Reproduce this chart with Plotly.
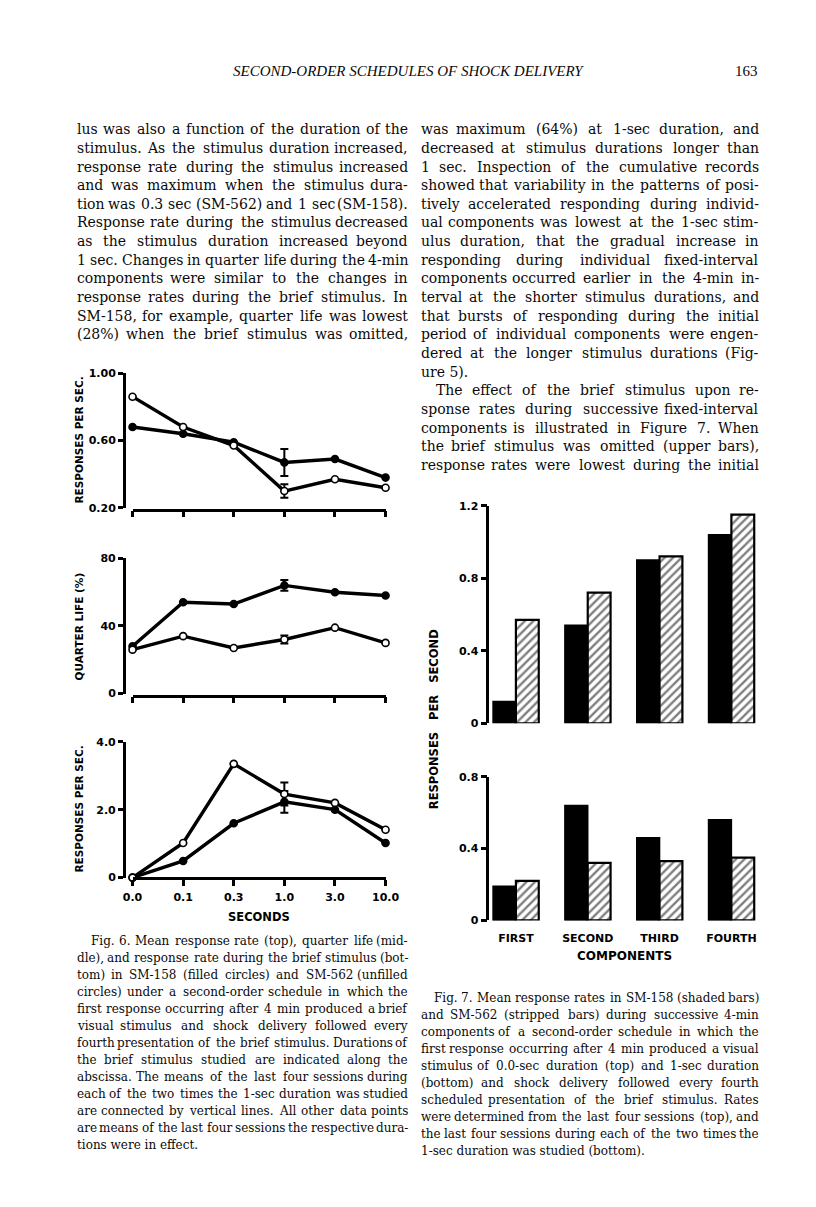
import plotly.graph_objects as go

W, H = 816, 1207
OFF = 8  # default page margin around the figure in the written html

# ---------------- data ----------------
sec_labels = ["0.0", "0.1", "0.3", "1.0", "3.0", "10.0"]
rate_158 = [0.68, 0.64, 0.59, 0.47, 0.49, 0.38]
rate_562 = [0.86, 0.68, 0.57, 0.30, 0.37, 0.32]
rate_err_158 = [None, None, None, 0.08, None, None]
rate_err_562 = [None, None, None, 0.04, None, None]
ql_158 = [28, 54, 53, 64, 60, 58]
ql_562 = [26, 34, 27, 32, 39, 30]
ql_err_158 = [None, None, None, 3.2, None, None]
ql_err_562 = [None, None, None, 2.4, None, None]
stim_158 = [0.0, 0.49, 1.60, 2.23, 2.00, 1.02]
stim_562 = [0.0, 1.02, 3.35, 2.46, 2.20, 1.41]
stim_err_158 = [None, None, None, 0.32, None, None]
stim_err_562 = [None, None, None, 0.34, None, None]

comp_labels = ["FIRST", "SECOND", "THIRD", "FOURTH"]
top_158 = [0.12, 0.54, 0.90, 1.04]
top_562 = [0.57, 0.72, 0.92, 1.15]
bot_158 = [0.19, 0.64, 0.46, 0.56]
bot_562 = [0.22, 0.32, 0.33, 0.35]

header = "SECOND-ORDER SCHEDULES OF SHOCK DELIVERY"
page_no = "163"

left_lines = [
    "lus was also a function of the duration of the",
    "stimulus. As the stimulus duration increased,",
    "response rate during the stimulus increased",
    "and was maximum when the stimulus dura-",
    "tion was 0.3 sec (SM-562) and 1 sec (SM-158).",
    "Response rate during the stimulus decreased",
    "as the stimulus duration increased beyond",
    "1 sec. Changes in quarter life during the 4-min",
    "components were similar to the changes in",
    "response rates during the brief stimulus. In",
    "SM-158, for example, quarter life was lowest",
    "(28%) when the brief stimulus was omitted,",
]
right_lines = [
    "was maximum (64%) at 1-sec duration, and",
    "decreased at stimulus durations longer than",
    "1 sec. Inspection of the cumulative records",
    "showed that variability in the patterns of posi-",
    "tively accelerated responding during individ-",
    "ual components was lowest at the 1-sec stim-",
    "ulus duration, that the gradual increase in",
    "responding during individual fixed-interval",
    "components occurred earlier in the 4-min in-",
    "terval at the shorter stimulus durations, and",
    "that bursts of responding during the initial",
    "period of individual components were engen-",
    "dered at the longer stimulus durations (Fig-",
    "ure 5).",
    "The effect of the brief stimulus upon re-",
    "sponse rates during successive fixed-interval",
    "components is illustrated in Figure 7. When",
    "the brief stimulus was omitted (upper bars),",
    "response rates were lowest during the initial",
]
cap6_lines = [
    "Fig. 6. Mean response rate (top), quarter life (mid-",
    "dle), and response rate during the brief stimulus (bot-",
    "tom) in SM-158 (filled circles) and SM-562 (unfilled",
    "circles) under a second-order schedule in which the",
    "first response occurring after 4 min produced a brief",
    "visual stimulus and shock delivery followed every",
    "fourth presentation of the brief stimulus. Durations of",
    "the brief stimulus studied are indicated along the",
    "abscissa. The means of the last four sessions during",
    "each of the two times the 1-sec duration was studied",
    "are connected by vertical lines. All other data points",
    "are means of the last four sessions the respective dura-",
    "tions were in effect.",
]
cap7_lines = [
    "Fig. 7. Mean response rates in SM-158 (shaded bars)",
    "and SM-562 (stripped bars) during successive 4-min",
    "components of a second-order schedule in which the",
    "first response occurring after 4 min produced a visual",
    "stimulus of 0.0-sec duration (top) and 1-sec duration",
    "(bottom) and shock delivery followed every fourth",
    "scheduled presentation of the brief stimulus. Rates",
    "were determined from the last four sessions (top), and",
    "the last four sessions during each of the two times the",
    "1-sec duration was studied (bottom).",
]

# ---------------- helpers ----------------
def px(x):
    return (x - OFF) / W


def py(y):
    return 1 - (y - OFF) / H


SERIF_W = {
    ' ': .318, '!': .402, '%': .950, '(': .390, ')': .390, ',': .318, '-': .338,
    '.': .318, ':': .337, ';': .337, '?': .536,
    'A': .722, 'B': .735, 'C': .765, 'D': .802, 'E': .730, 'F': .694, 'G': .799,
    'H': .872, 'I': .395, 'J': .401, 'K': .747, 'L': .664, 'M': 1.024, 'N': .875,
    'O': .820, 'P': .673, 'Q': .820, 'R': .753, 'S': .685, 'T': .667, 'U': .843,
    'V': .722, 'W': 1.028, 'X': .712, 'Y': .660, 'Z': .695,
    'a': .596, 'b': .640, 'c': .560, 'd': .640, 'e': .592, 'f': .370, 'g': .640,
    'h': .644, 'i': .320, 'j': .310, 'k': .606, 'l': .320, 'm': .948, 'n': .644,
    'o': .602, 'p': .640, 'q': .640, 'r': .478, 's': .513, 't': .402, 'u': .644,
    'v': .565, 'w': .856, 'x': .564, 'y': .565, 'z': .527,
}
for d in "0123456789":
    SERIF_W[d] = .636


def tw(s, size):
    return sum(SERIF_W.get(c, .6) for c in s) * size


annotations = []
SERIF = "DejaVu Serif"
INK = "#0a0a0a"


def add_line(text, x0, x1, y, size, justify=True):
    font = dict(family=SERIF, size=size, color=INK)
    words = text.split(" ")
    if not justify or len(words) == 1:
        annotations.append(dict(xref="paper", yref="paper", x=px(x0), y=py(y), text=text,
                                showarrow=False, xanchor="left", yanchor="middle",
                                font=font, borderpad=0))
        return
    ws = [tw(w, size) for w in words]
    gap = (x1 - x0 - sum(ws)) / (len(words) - 1)
    pos = x0
    for i, w in enumerate(words):
        if i == 0:
            x, anc = pos, "left"
        elif i == len(words) - 1:
            x, anc = x1, "right"
        else:
            x, anc = pos + ws[i] / 2, "center"
        annotations.append(dict(xref="paper", yref="paper", x=px(x), y=py(y), text=w,
                                showarrow=False, xanchor=anc, yanchor="middle",
                                font=font, borderpad=0))
        pos += ws[i] + gap


def add_block(lines, x0, x1, y0, dy, size, indents=None, last_lines=()):
    indents = indents or {}
    for i, t in enumerate(lines):
        add_line(t, x0 + indents.get(i, 0), x1, y0 + i * dy, size,
                 justify=(i not in last_lines))


LX0, LX1 = 68, 411
RX0, RX1 = 421.7, 772.7
BODY_Y0, BODY_DY, BODY_SZ = 124.5, 18.85, 14

add_block(left_lines, LX0, LX1, BODY_Y0, BODY_DY, BODY_SZ)
add_block(right_lines, RX0, RX1, BODY_Y0, BODY_DY, BODY_SZ, indents={14: 16}, last_lines=(13,))
add_block(cap6_lines, LX0, LX1, 945, 17.2, 12, indents={0: 14}, last_lines=(12,))
add_block(cap7_lines, RX0, RX1, 1003, 17.2, 12, indents={0: 14}, last_lines=(9,))

annotations.append(dict(xref="paper", yref="paper", x=px(410), y=py(66), text=header,
                        showarrow=False, xanchor="center", yanchor="middle",
                        font=dict(family="Liberation Serif", size=15, color=INK, style="italic")))
annotations.append(dict(xref="paper", yref="paper", x=px(RX1), y=py(66), text=page_no,
                        showarrow=False, xanchor="right", yanchor="middle",
                        font=dict(family="Liberation Serif", size=15, color=INK)))

SANS = dict(family="DejaVu Sans", size=11, color="black", weight="bold")


def vtitle(text, x, y, size=10.5):
    annotations.append(dict(xref="paper", yref="paper", x=px(x), y=py(y), text=text,
                            showarrow=False, textangle=-90, xanchor="center", yanchor="middle",
                            font=dict(family="DejaVu Sans", size=size, color="black", weight="bold")))


NB = "\u00a0"
vtitle("RESPONSES" + NB + "PER" + NB + "SEC.", 71, 439)
vtitle("QUARTER" + NB + "LIFE" + NB + "(%)", 71, 627)
vtitle("RESPONSES" + NB + "PER" + NB + "SEC.", 71, 812)
vtitle("RESPONSES" + NB * 3 + "PER" + NB * 3 + "SECOND", 436.5, 721, 11.5)

annotations.append(dict(xref="paper", yref="paper", x=px(256.5), y=py(921), text="SECONDS",
                        showarrow=False, xanchor="center", yanchor="middle",
                        font=dict(family="DejaVu Sans", size=11.5, color="black", weight="bold")))
annotations.append(dict(xref="paper", yref="paper", x=px(633), y=py(960), text="COMPONENTS",
                        showarrow=False, xanchor="center", yanchor="middle",
                        font=dict(family="DejaVu Sans", size=12, color="black", weight="bold")))

# ---------------- figure ----------------
fig = go.Figure()
idx6 = list(range(len(sec_labels)))


def line_pair(v158, e158, v562, e562, xa, ya):
    for vals, errs, filled in ((v158, e158, True), (v562, e562, False)):
        fig.add_trace(go.Scatter(
            x=idx6, y=vals, mode="lines+markers", xaxis=xa, yaxis=ya, cliponaxis=False,
            line=dict(color="black", width=3.4),
            marker=dict(size=7, color="black" if filled else "white",
                        line=dict(color="black", width=1.6)),
            error_y=dict(type="data", array=errs, visible=True, color="black",
                         thickness=2, width=4),
            showlegend=False, hoverinfo="skip"))


line_pair(rate_158, rate_err_158, rate_562, rate_err_562, "x", "y")
line_pair(ql_158, ql_err_158, ql_562, ql_err_562, "x2", "y2")
line_pair(stim_158, stim_err_158, stim_562, stim_err_562, "x3", "y3")

idx7 = list(range(len(comp_labels)))
BW = 0.318


def bar_pair(v158, v562, xa, ya):
    fig.add_trace(go.Bar(x=idx7, y=v158, width=BW, offset=-BW, xaxis=xa, yaxis=ya,
                         marker=dict(color="black", line=dict(color="black", width=1.5)),
                         showlegend=False, hoverinfo="skip"))
    fig.add_trace(go.Bar(x=idx7, y=v562, width=BW, offset=0, xaxis=xa, yaxis=ya,
                         marker=dict(color="white", line=dict(color="black", width=2.2),
                                     pattern=dict(shape="/", fgcolor="black", bgcolor="white",
                                                  size=6, solidity=0.4)),
                         showlegend=False, hoverinfo="skip"))


bar_pair(top_158, top_562, "x4", "y4")
bar_pair(bot_158, bot_562, "x5", "y5")

AX_LW = 2.6
X6_DOM = [px(126), px(386.7)]
Y6_POS = px(117)


def xax6(pos_y, labels):
    return dict(domain=X6_DOM, range=[0, 5], anchor="free", position=py(pos_y),
                showline=True, linecolor="black", linewidth=AX_LW, ticks="outside",
                ticklen=6, tickwidth=AX_LW, tickcolor="black", tickvals=idx6,
                ticktext=sec_labels, showticklabels=labels, tickfont=SANS,
                ticklabelstandoff=2,
                showgrid=False, zeroline=False, fixedrange=True)


def yax(dom_bottom, dom_top, rng, tv, tt, pos_x, ticklen=5):
    return dict(domain=[py(dom_bottom), py(dom_top)], range=rng, anchor="free",
                position=pos_x, showline=True, linecolor="black", linewidth=AX_LW,
                ticks="outside", ticklen=ticklen, tickwidth=AX_LW, tickcolor="black",
                tickvals=tv, ticktext=tt, tickfont=SANS, showgrid=False,
                zeroline=False, fixedrange=True)


X7_DOM = [px(491.7), px(780)]
X7_RANGE = [-0.396, 3.5]

fig.update_layout(
    width=W, height=H, margin=dict(l=0, r=0, t=0, b=0),
    paper_bgcolor="white", plot_bgcolor="rgba(0,0,0,0)",
    barmode="overlay", showlegend=False,
    xaxis=xax6(509, False),
    yaxis=yax(507.3, 371, [0.2, 1.0], [0.2, 0.6, 1.0], ["0.20", "0.60", "1.00"], Y6_POS),
    xaxis2=xax6(697, False),
    yaxis2=yax(695, 558.3, [0, 80], [0, 40, 80], ["0", "40", "80"], Y6_POS),
    xaxis3=xax6(881.7, True),
    yaxis3=yax(881, 743.7, [0, 4], [0, 2, 4], ["0", "2.0", "4.0"], Y6_POS),
    xaxis4=dict(domain=X7_DOM, range=X7_RANGE, anchor="y4", showline=False,
                showticklabels=False, ticks="", showgrid=False, zeroline=False, fixedrange=True),
    yaxis4=yax(725, 505, [0, 1.2], [0, 0.4, 0.8, 1.2], ["0", "0.4", "0.8", "1.2"], px(491.7), 6),
    xaxis5=dict(domain=X7_DOM, range=X7_RANGE, anchor="y5", showline=False,
                tickvals=idx7, ticktext=comp_labels, tickfont=SANS, ticks="",
                ticklabelstandoff=10, showgrid=False, zeroline=False, fixedrange=True),
    yaxis5=yax(924.3, 779, [0, 0.8], [0, 0.4, 0.8], ["0", "0.4", "0.8"], px(491.7), 6),
    annotations=annotations,
)

fig.write_html("out.html")
